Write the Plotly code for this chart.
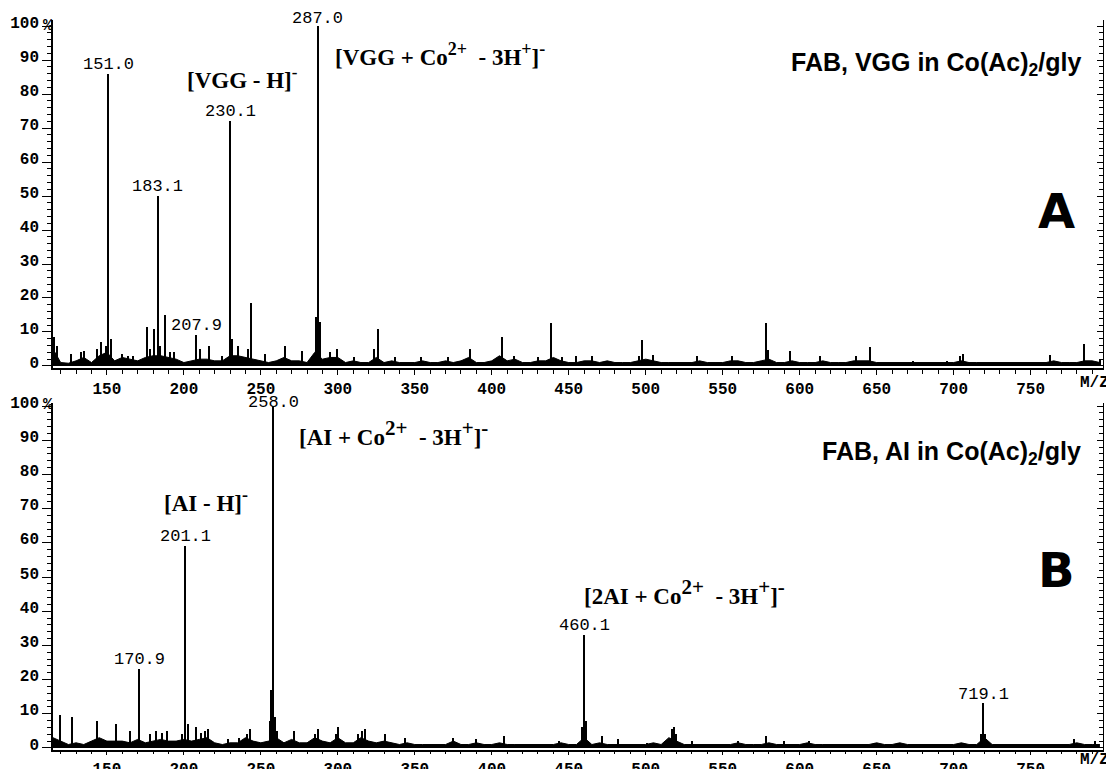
import plotly.graph_objects as go

# ---------------- data: panel A (VGG) ----------------
top_base_mz = list(range(115, 800, 5))
top_base_int = [
    5, 1, 0.8, 1.5, 2.5, 1, 3, 4, 1.5, 2.5,
    2, 1.5, 2.5, 3, 3, 2.5, 2, 1, 1.5, 2,
    2, 1.5, 1.5, 3, 3, 2.5, 2, 1.5, 1, 1.5,
    2.5, 1.5, 1.5, 1, 4, 2, 2.5, 2.5, 1, 1.5,
    1, 1, 2.5, 1, 1.5, 1, 1, 1, 1.5, 1,
    1, 1.5, 1, 1.5, 2.5, 1, 1, 1.5, 3, 1.5,
    2, 1, 1, 1.5, 1.5, 2.5, 1.5, 1, 1, 1.5,
    1.5, 1, 1.5, 1, 1, 1, 1.5, 2, 1.5, 1,
    1, 1, 1, 1, 1.5, 1, 1, 1, 1.5, 1.5,
    1, 1, 1.5, 2, 1, 1, 1.5, 1, 1, 1,
    1.5, 1, 1, 1, 1.5, 1.5, 1.5, 1, 1, 1,
    1, 1, 1, 1, 1, 1, 1, 1, 1.5, 1,
    1, 1, 1, 1, 1, 1, 1, 1, 1, 1,
    1.5, 1, 1, 1, 1.5, 1.5, 1,
]
top_peak_mz = [116, 117.5, 126.5, 133.5, 135, 143.5, 146, 149.5, 151.0, 152.5,
               160, 164, 167, 176, 178, 181, 183.1, 184.5, 188, 191,
               194, 207.9, 210.5, 216.5, 225, 230.1, 231.5, 235.5, 242, 243.6,
               253, 266, 277, 286, 287.0, 288.5, 295, 299.5, 310.5, 323.5,
               326, 337, 354, 372, 386, 406.5, 414.5, 430, 438.5, 445.5,
               455, 465.5, 474.5, 495.5, 498, 505, 533.5, 556, 578, 579.5,
               594, 613.5, 636.5, 645.5, 674, 696, 704, 706, 763, 785, 795]
top_peak_int = [8.5, 6, 3.5, 4, 4.5, 5, 7, 6, 86, 8,
                3.5, 3, 3, 11.5, 5, 11, 50, 6, 15, 4,
                4, 9, 5, 6, 3, 72, 8, 6, 5, 18.5,
                3.5, 6, 4.5, 14.5, 100, 13, 4, 5, 2.5, 5,
                11, 2.5, 2.5, 2.5, 5, 8.5, 3, 2.5, 12.5, 2.5,
                3, 3, 1.5, 3, 7.6, 3.3, 3, 3, 12.5, 4.6,
                4.5, 3, 3, 5.5, 1.5, 1.5, 3, 3.6, 3.3, 6.4, 2]
top_labels = [151.0, 183.1, 207.9, 230.1, 287.0]

# ---------------- data: panel B (AI) ----------------
bot_base_mz = list(range(115, 800, 5))
bot_base_int = [
    3, 2, 1, 1.5, 1, 2, 3, 2, 2, 2,
    1.5, 2.5, 1.5, 2, 2.5, 2, 2, 2.5, 2, 2.5,
    3, 1.5, 1, 1.5, 1.5, 3, 2, 1.5, 2, 3,
    1.5, 2.5, 1.5, 1.5, 3, 2, 1.5, 3, 1.5, 1.5,
    3, 2, 1.5, 2, 1.5, 1, 1.5, 1, 1, 1,
    1, 1, 2, 1, 1, 1.5, 1, 1, 1.5, 1,
    1, 1, 1, 1, 1, 1, 1.5, 1, 1, 3,
    1, 1.5, 1, 1, 1, 1, 1, 1, 1.5, 1,
    3, 2, 1, 1, 1, 1, 1, 1, 1, 1.5,
    1, 1, 1, 1.5, 1, 1, 1, 1, 1.5, 1,
    1, 1, 1, 1, 1, 1, 1, 1.5, 1, 1,
    1.5, 1, 1, 1, 1, 1, 1, 1, 1.5, 1,
    1, 3, 1, 1, 1, 1, 1, 1, 1, 1,
    1, 1, 1, 1.5, 1, 1, 1,
]
bot_peak_mz = [119.5, 127.5, 143.8, 156, 165, 170.9, 178, 182, 186, 189,
               199, 201.1, 202.5, 208, 211, 214, 216, 229, 236, 241,
               243, 256, 257, 258.0, 259, 260.5, 271.5, 285, 287, 299,
               300.5, 313, 316, 318, 331, 344, 375, 390, 408, 444,
               459, 460.1, 461.5, 472, 482, 501, 517, 518.5, 520, 530,
               560, 578, 590, 606, 649, 664, 706, 718, 719.1, 720.5,
               778, 792]
bot_peak_int = [9.5, 9, 8, 7, 5, 23, 4, 5, 4.5, 5,
                4, 59, 7, 6, 4.5, 5, 5.5, 2.5, 3, 4,
                5.5, 8, 17, 100, 9, 5, 5, 4, 5.5, 4,
                6, 4, 5, 5.5, 4, 3, 3, 2.5, 3.5, 2,
                6, 33, 8, 3.5, 2.5, 1.5, 5.5, 6, 4, 2,
                2, 3.5, 2, 2, 1.5, 1.5, 1.5, 4, 13, 4,
                2.5, 2]
bot_labels = [170.9, 201.1, 258.0, 460.1, 719.1]

x_ticks = [150, 200, 250, 300, 350, 400, 450, 500, 550, 600, 650, 700, 750]
y_ticks = [0, 10, 20, 30, 40, 50, 60, 70, 80, 90, 100]
y_ticktext = ["0", "10", "20", "30", "40", "50", "60", "70", "80", "90", "100"]

# ---------------- figure ----------------
MONO = "Liberation Mono"
SERIF = "Liberation Serif"
SANS = "Liberation Sans"

fig = go.Figure()

def add_panel(base_mz, base_int, pk_mz, pk_int, xa, ya):
    fig.add_trace(go.Scatter(x=base_mz, y=base_int, mode="lines", fill="tozeroy",
                             line=dict(color="black", width=1), fillcolor="black",
                             xaxis=xa, yaxis=ya, hoverinfo="skip", showlegend=False))
    fig.add_trace(go.Bar(x=pk_mz, y=pk_int, width=0.9, marker=dict(color="black", line=dict(width=0)),
                         xaxis=xa, yaxis=ya, showlegend=False))

add_panel(top_base_mz, top_base_int, top_peak_mz, top_peak_int, "x", "y")
add_panel(bot_base_mz, bot_base_int, bot_peak_mz, bot_peak_int, "x2", "y2")
# carriers for right-hand frame axes
fig.add_trace(go.Scatter(x=[None], y=[None], xaxis="x", yaxis="y3", showlegend=False))
fig.add_trace(go.Scatter(x=[None], y=[None], xaxis="x2", yaxis="y4", showlegend=False))

XR = [115, 797]
TOP_YR = [-0.6, 101.8]
BOT_YR = [-0.6, 100.9]
TOP_DOM = [0.5233, 1.0]
BOT_DOM = [0.0, 0.4753]

def xaxis_cfg(anchor, tl):
    return dict(domain=[0, 1], anchor=anchor, range=XR, showgrid=False, zeroline=False,
                automargin=False,
                showline=True, linecolor="black", linewidth=1.5,
                tickmode="array", tickvals=x_ticks, ticks="outside", ticklen=tl, tickwidth=1.2,
                tickcolor="black",
                minor=dict(tickmode="linear", tick0=0, dtick=10, ticks="outside", ticklen=tl - 1,
                           tickcolor="black", tickwidth=1),
                tickfont=dict(family=MONO, size=16, color="black", weight="bold"))

def yaxis_cfg(dom, yr):
    return dict(domain=dom, anchor="x" if dom == TOP_DOM else "x2", range=yr, showgrid=False,
                automargin=False, ticklabelshift=-4,
                zeroline=False, showline=True, linecolor="black", linewidth=1.5,
                tickmode="array", tickvals=y_ticks, ticktext=y_ticktext, ticks="outside",
                ticklen=9, tickwidth=1.2, tickcolor="black",
                minor=dict(tickmode="linear", tick0=0, dtick=2, ticks="outside", ticklen=4,
                           tickcolor="black", tickwidth=1),
                tickfont=dict(family=MONO, size=16, color="black", weight="bold"))

def right_cfg(over, anchor, yr):
    return dict(overlaying=over, anchor=anchor, side="right", range=yr, showgrid=False,
                automargin=False,
                zeroline=False, showline=True, linecolor="black", linewidth=1,
                tickmode="array", tickvals=y_ticks, ticks="inside", ticklen=6, tickcolor="black",
                minor=dict(tickmode="linear", tick0=0, dtick=2, ticks="inside", ticklen=4,
                           tickcolor="black"),
                showticklabels=False)

# the page body adds an 8px margin, so the figure is 8px smaller than the window
fig.update_layout(
    width=1106, height=761,
    paper_bgcolor="white", plot_bgcolor="white",
    margin=dict(l=45, r=11, t=12, b=19, autoexpand=False),
    bargap=0, barmode="overlay", showlegend=False,
    xaxis=xaxis_cfg("y", 5), xaxis2=xaxis_cfg("y2", 3),
    yaxis=yaxis_cfg(TOP_DOM, TOP_YR), yaxis2=yaxis_cfg(BOT_DOM, BOT_YR),
    yaxis3=right_cfg("y", "x", TOP_YR), yaxis4=right_cfg("y2", "x2", BOT_YR),
)

annotations = []
label_shift = {258.0: -8, 287.0: -4}

def peak_labels(labels, pk_mz, pk_int, xr, yr):
    for m in labels:
        h = pk_int[pk_mz.index(m)]
        annotations.append(dict(x=m, y=h, xref=xr, yref=yr, text=f"{m:.1f}", showarrow=False,
                                yanchor="bottom", yshift=label_shift.get(m, -2),
                                font=dict(family=MONO, size=17, color="black")))

peak_labels(top_labels, top_peak_mz, top_peak_int, "x", "y")
peak_labels(bot_labels, bot_peak_mz, bot_peak_int, "x2", "y2")

# positions below are page pixels of the reference (plot area 53..1103 x 20..750)
def px(xp):
    return (xp - 53) / 1050.0

def py(yp):
    return (750 - yp) / 730.0

def text(xp, yp, s, font, xanchor="left"):
    annotations.append(dict(x=px(xp), y=py(yp), xref="paper", yref="paper", text=s,
                            showarrow=False, xanchor=xanchor, yanchor="middle", font=font))

serif = dict(family=SERIF, size=23, color="black")
sans = dict(family=SANS, size=25, color="black")
big = dict(family="DejaVu Sans", size=48, color="black")
mono = dict(family=MONO, size=16, color="black", weight="bold")

def sup(s, size):
    return f'<sup><span style="font-size:{size}px">{s}</span></sup>'

def co_label(prefix, sz):
    return ("<b>[" + prefix + " + Co" + sup("2+", sz) + "  - 3H" + sup("+", sz) + "]"
            + sup("-", sz) + "</b>")

text(185, 78, "<b>[VGG - H]" + sup("-", 17) + "</b>", serif)
text(333, 55, co_label("VGG", 18), serif)
text(1083, 64, "<b>FAB, VGG in Co(Ac)<sub>2</sub>/gly</b>", sans, xanchor="right")
text(1077, 211, "<b>A</b>", big, xanchor="right")
text(1111, 383, "M/Z", mono, xanchor="right")
text(48, 26, "%", mono, xanchor="center")

text(297, 433, co_label("AI", 21), serif)
text(162, 500, "<b>[AI - H]" + sup("-", 18) + "</b>", serif)
text(582, 592, co_label("2AI", 21), serif)
text(1083, 453, "<b>FAB, AI in Co(Ac)<sub>2</sub>/gly</b>", sans, xanchor="right")
text(1077, 570, "<b>B</b>", big, xanchor="right")
text(1111, 760, "M/Z", mono, xanchor="right")
text(48, 405, "%", mono, xanchor="center")

fig.update_layout(annotations=annotations)

fig.write_html("out.html")
